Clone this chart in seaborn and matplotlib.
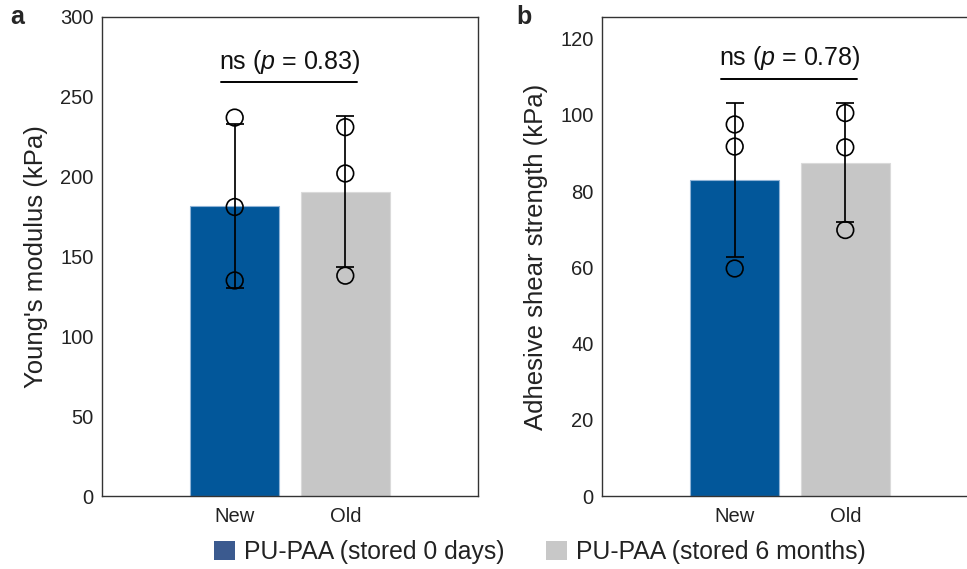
import matplotlib
matplotlib.use("Agg")
import matplotlib.pyplot as plt
import seaborn as sns
import pandas as pd
import numpy as np
from matplotlib.patches import Patch

# ---- data ----
groups = ["New", "Old"]
series_labels = ["PU-PAA (stored 0 days)", "PU-PAA (stored 6 months)"]

young_mean = [181.5, 190.5]
young_sd = [51.3, 47.3]
young_pts_new = [237, 181, 135]
young_pts_old = [231, 202, 138]
young_p = "0.83"

shear_mean = [82.9, 87.5]
shear_sd = [20.3, 15.6]
shear_pts_new = [97.5, 91.7, 59.7]
shear_pts_old = [100.5, 91.5, 69.8]
shear_p = "0.78"

bar_colors = ["#02579a", "#c6c6c6"]
edge_colors = ["#8fb3d6", "#dadada"]
legend_colors = ["#3b5a8f", "#c8c8c8"]

sns.set_style("white")
plt.rcParams["font.family"] = ["Liberation Sans", "DejaVu Sans"]
plt.rcParams["mathtext.fontset"] = "custom"
plt.rcParams["mathtext.it"] = "Liberation Sans:italic"
plt.rcParams["mathtext.rm"] = "Liberation Sans"

fig = plt.figure(figsize=(9.67, 5.69), dpi=100)
W, H = 967, 569
ax1 = fig.add_axes([102 / W, (H - 496) / H, 376 / W, 479 / H])
ax2 = fig.add_axes([602 / W, (H - 496) / H, 376 / W, 479 / H])


def panel(ax, means, sds, pts_new, pts_old, ylim, yticks, ylabel, pval, sig_y):
    df = pd.DataFrame({"group": groups, "value": means})
    sns.barplot(data=df, x="group", y="value", hue="group", order=groups,
                palette=bar_colors, width=0.8, ax=ax, legend=False,
                linewidth=0.8, saturation=1)
    for patch, ec in zip(ax.patches, edge_colors):
        patch.set_edgecolor(ec)
    pts = pd.DataFrame({
        "group": ["New"] * len(pts_new) + ["Old"] * len(pts_old),
        "value": list(pts_new) + list(pts_old),
    })
    sns.stripplot(data=pts, x="group", y="value", order=groups, jitter=False,
                  color="black", size=12, linewidth=1.2, edgecolor="black", ax=ax, zorder=4)
    for coll in ax.collections:
        coll.set_facecolor("none")
        coll.set_edgecolor("black")
    ax.errorbar([0, 1], means, yerr=sds, fmt="none", ecolor="black",
                elinewidth=1.25, capsize=6.5, capthick=1.25, zorder=5)
    ax.set_xlim(-1.2, 2.2)
    ax.set_ylim(*ylim)
    ax.set_yticks(yticks)
    ax.set_xlabel("")
    ax.set_ylabel(ylabel, fontsize=18.5, color="#222222", labelpad=9)
    ax.tick_params(axis="both", direction="in", length=4, width=1, colors="#333333",
                   labelsize=14.5, labelcolor="#222222", pad=6)
    ax.tick_params(axis="x", pad=8)
    for s in ax.spines.values():
        s.set_visible(True)
        s.set_color("#333333")
        s.set_linewidth(1.0)
    ax.plot([-0.12, 1.11], [sig_y, sig_y], color="black", lw=1.4, clip_on=False)
    ax.text(0.5, sig_y + (ylim[1] - ylim[0]) * 0.028, "ns ($p$ = " + pval + ")",
            ha="center", va="baseline", fontsize=18, color="#111111")


panel(ax1, young_mean, young_sd, young_pts_new, young_pts_old, (0, 300),
      [0, 50, 100, 150, 200, 250, 300], "Young's modulus (kPa)", young_p, 259)
panel(ax2, shear_mean, shear_sd, shear_pts_new, shear_pts_old, (0, 125.7),
      [0, 20, 40, 60, 80, 100, 120], "Adhesive shear strength (kPa)", shear_p, 109.5)

fig.text(10 / W, 1 - 24 / H, "a", fontsize=18, fontweight="bold", va="baseline")
fig.text(516 / W, 1 - 24 / H, "b", fontsize=18, fontweight="bold", va="baseline")

handles = [Patch(facecolor=c, edgecolor="none") for c in legend_colors]
fig.legend(handles, series_labels, loc="center", bbox_to_anchor=(540 / W, 1 - 552 / H),
           ncol=2, frameon=False, fontsize=17.8, handlelength=0.85, handleheight=0.8,
           handletextpad=0.35, columnspacing=1.7, borderpad=0, labelcolor="#222222")

fig.savefig("out.png", dpi=100)
